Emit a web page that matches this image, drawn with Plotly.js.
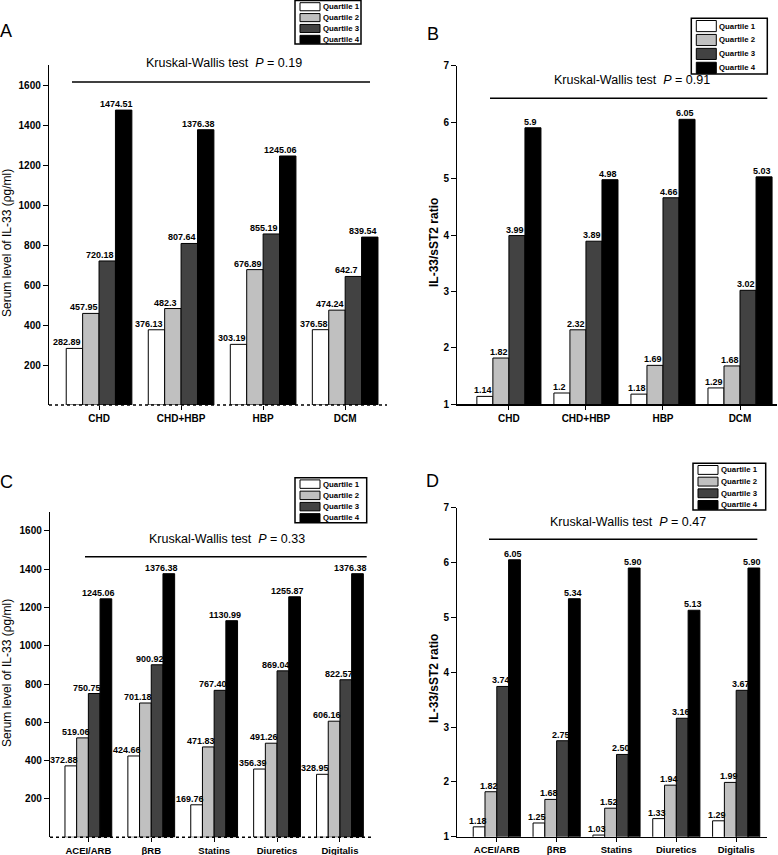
<!DOCTYPE html>
<html>
<head>
<meta charset="utf-8">
<script src="https://cdn.plot.ly/plotly-3.0.1.min.js"></script>
<style>
  html, body { margin: 0; padding: 0; background: #fff; }
  #fig { width: 778px; height: 855px; }
</style>
</head>
<body>
<div id="fig"></div>
<script>
/* ─── Data ─── */
const QUARTILES = ['Quartile 1', 'Quartile 2', 'Quartile 3', 'Quartile 4'];
const Q_COLORS = ['#ffffff', '#c0c0c0', '#424242', '#000000'];

const DISEASE_CATS = ['CHD', 'CHD+HBP', 'HBP', 'DCM'];
const DRUG_CATS = ['ACEI/ARB', 'βRB', 'Statins', 'Diuretics', 'Digitalis'];

// A: serum IL-33 by disease
const A_Q1 = [282.89, 376.13, 303.19, 376.58];
const A_Q2 = [457.95, 482.3, 676.89, 474.24];
const A_Q3 = [720.18, 807.64, 855.19, 642.7];
const A_Q4 = [1474.51, 1376.38, 1245.06, 839.54];

// B: IL-33/sST2 ratio by disease
const B_Q1 = [1.14, 1.2, 1.18, 1.29];
const B_Q2 = [1.82, 2.32, 1.69, 1.68];
const B_Q3 = [3.99, 3.89, 4.66, 3.02];
const B_Q4 = [5.9, 4.98, 6.05, 5.03];

// C: serum IL-33 by drug
const C_Q1 = [372.88, 424.66, 169.76, 356.39, 328.95];
const C_Q2 = [519.06, 701.18, 471.83, 491.26, 606.16];
const C_Q3 = [750.75, 900.92, 767.40, 869.04, 822.57];
const C_Q4 = [1245.06, 1376.38, 1130.99, 1255.87, 1376.38];

// D: IL-33/sST2 ratio by drug
const D_Q1 = [1.18, 1.25, 1.03, 1.33, 1.29];
const D_Q2 = [1.82, 1.68, 1.52, 1.94, 1.99];
const D_Q3 = [3.74, 2.75, 2.50, 3.16, 3.67];
const D_Q4 = [6.05, 5.34, 5.90, 5.13, 5.90];

const P_VALUES = ['0.19', '0.91', '0.33', '0.47'];
const SERUM_TICKS = [200, 400, 600, 800, 1000, 1200, 1400, 1600];
const RATIO_TICKS = [1, 2, 3, 4, 5, 6, 7];

/* ─── Page geometry (pixels → paper) ─── */
const W = 778, H = 855;
const px = v => v / W;
const py = v => 1 - v / H;
const FONT = '"Liberation Sans", Arial, Helvetica, sans-serif';

const PANELS = [
  {
    letter: 'A', cats: DISEASE_CATS, series: [A_Q1, A_Q2, A_Q3, A_Q4], fmt: v => String(v),
    xdom: [49, 387], ydom: [405, 65], xrange: [-0.61, 3.51], yrange: [0, 1700], ticks: SERUM_TICKS,
    barw: 0.2, shift: -7, dotted: true, catSize: 10,
    title: [224, 63], line: [72, 370, 82], legend: [295, 0.5, 361, 44],
    letterAt: [6, 31], ytitle: 'Serum level of IL-33 (ρg/ml)', ytAt: [7, 243], ytBold: false,
  },
  {
    letter: 'B', cats: DISEASE_CATS, series: [B_Q1, B_Q2, B_Q3, B_Q4], fmt: v => String(v),
    xdom: [457.3, 777], ydom: [404.3, 65.7], xrange: [-0.67, 3.48], yrange: [1, 7], ticks: RATIO_TICKS,
    barw: 0.208, shift: -2, dotted: false, catSize: 10,
    title: [632, 80], line: [490, 767.3, 98.3], legend: [691.3, 18.3, 767.3, 74],
    letterAt: [432.5, 34], ytitle: 'IL-33/sST2 ratio', ytAt: [434, 242], ytBold: true,
  },
  {
    letter: 'C', cats: DRUG_CATS, series: [C_Q1, C_Q2, C_Q3, C_Q4], fmt: v => v.toFixed(2),
    xdom: [50, 371.7], ydom: [837.3, 511.7], xrange: [-0.61, 4.505], yrange: [0, 1700], ticks: SERUM_TICKS,
    barw: 0.186, shift: -7, dotted: true, catSize: 9.5,
    title: [226.7, 539.3], line: [85, 366.7, 556.7], legend: [295, 477.7, 366.7, 522.7],
    letterAt: [6, 482], ytitle: 'Serum level of IL-33 (ρg/ml)', ytAt: [7, 673], ytBold: false,
  },
  {
    letter: 'D', cats: DRUG_CATS, series: [D_Q1, D_Q2, D_Q3, D_Q4], fmt: v => v.toFixed(2),
    xdom: [457.3, 767.3], ydom: [836.7, 507.7], xrange: [-0.66, 4.52], yrange: [1, 7], ticks: RATIO_TICKS,
    barw: 0.197, shift: -1.5, dotted: false, catSize: 9.5,
    title: [628, 521.7], line: [489, 757.3, 539.3], legend: [693, 463.3, 765.7, 510],
    letterAt: [432.5, 481], ytitle: 'IL-33/sST2 ratio', ytAt: [434, 678], ytBold: true,
  },
];

/* ─── Build figure ─── */
const traces = [];
const annotations = [];
const shapes = [];
const layout = {
  width: W, height: H,
  margin: { l: 0, r: 0, t: 0, b: 0 },
  paper_bgcolor: '#fff', plot_bgcolor: '#fff',
  font: { family: FONT, color: '#000' },
  showlegend: false,
  barmode: 'overlay',
};

PANELS.forEach((p, k) => {
  const n = k === 0 ? '' : String(k + 1);
  const xa = 'x' + n, ya = 'y' + n;

  p.series.forEach((vals, i) => {
    traces.push({
      type: 'bar', x: p.cats, y: vals, name: QUARTILES[i],
      xaxis: xa, yaxis: ya,
      width: p.barw, offset: (i - 2) * p.barw,
      marker: { color: Q_COLORS[i], line: { color: '#000', width: 1 } },
      hoverinfo: 'skip',
    });
    vals.forEach((v, c) => {
      annotations.push({
        xref: xa, yref: ya, x: c + (i - 1.5) * p.barw, y: v,
        text: p.fmt(v), showarrow: false, yanchor: 'bottom', xanchor: 'center',
        xshift: p.shift, yshift: -1,
        font: { size: 9, weight: 'bold', family: FONT, color: '#000' },
      });
    });
  });

  layout['xaxis' + n] = {
    domain: [px(p.xdom[0]), px(p.xdom[1])], anchor: ya,
    type: 'category', range: p.xrange, fixedrange: true,
    showline: !p.dotted, linecolor: '#000', linewidth: 1.2,
    ticks: 'outside', ticklen: 4, tickcolor: '#000', tickwidth: 1,
    showgrid: false, zeroline: false,
    tickfont: { size: p.catSize, weight: 'bold', family: FONT, color: '#000' },
  };
  layout['yaxis' + n] = {
    domain: [py(p.ydom[0]), py(p.ydom[1])], anchor: xa,
    range: p.yrange, fixedrange: true,
    tickvals: p.ticks,
    showline: true, linecolor: '#000', linewidth: 1.2,
    ticks: 'outside', ticklen: 5, tickcolor: '#000', tickwidth: 1,
    showgrid: false, zeroline: false,
    tickfont: { size: 10, weight: 'bold', family: FONT, color: '#000' },
  };

  if (p.dotted) {
    shapes.push({
      type: 'line', xref: xa + ' domain', yref: ya + ' domain',
      x0: 0, x1: 1, y0: 0, y1: 0,
      line: { color: '#000', width: 1.5, dash: 'dot' },
    });
  }

  // test title and bracket line
  annotations.push({
    xref: 'paper', yref: 'paper', x: px(p.title[0]), y: py(p.title[1]),
    text: 'Kruskal-Wallis test\u00a0\u00a0<i>P</i> = ' + P_VALUES[k],
    showarrow: false, xanchor: 'center', yanchor: 'middle',
    font: { size: 12.5, family: FONT, color: '#000' },
  });
  shapes.push({
    type: 'line', xref: 'paper', yref: 'paper',
    x0: px(p.line[0]), x1: px(p.line[1]), y0: py(p.line[2]), y1: py(p.line[2]),
    line: { color: '#000', width: 1.5 },
  });

  // panel letter and y title
  annotations.push({
    xref: 'paper', yref: 'paper', x: px(p.letterAt[0]), y: py(p.letterAt[1]),
    text: p.letter, showarrow: false, xanchor: 'center', yanchor: 'middle',
    font: { size: 18, family: FONT, color: '#000' },
  });
  annotations.push({
    xref: 'paper', yref: 'paper', x: px(p.ytAt[0]), y: py(p.ytAt[1]),
    text: p.ytitle, textangle: -90, showarrow: false, xanchor: 'center', yanchor: 'middle',
    font: { size: 12, weight: p.ytBold ? 'bold' : 'normal', family: FONT, color: '#000' },
  });

  // legend box
  const [L, T, R, B] = p.legend;
  const pitch = (B - T) / 4;
  shapes.push({
    type: 'rect', xref: 'paper', yref: 'paper',
    x0: px(L), x1: px(R), y0: py(T), y1: py(B),
    line: { color: '#000', width: 1.5 }, fillcolor: 'rgba(0,0,0,0)',
  });
  QUARTILES.forEach((q, i) => {
    const top = T + i * pitch + 2.2, bot = T + (i + 1) * pitch - 0.6;
    shapes.push({
      type: 'rect', xref: 'paper', yref: 'paper',
      x0: px(L + 5), x1: px(L + 25), y0: py(top), y1: py(bot),
      line: { color: '#000', width: 1 }, fillcolor: Q_COLORS[i],
    });
    annotations.push({
      xref: 'paper', yref: 'paper', x: px(L + 26), y: py((top + bot) / 2),
      text: q, showarrow: false, xanchor: 'left', yanchor: 'middle',
      font: { size: 7.8, weight: 'bold', family: FONT, color: '#000' },
    });
  });
});

layout.annotations = annotations;
layout.shapes = shapes;

Plotly.newPlot('fig', traces, layout, { displayModeBar: false, staticPlot: true });
</script>
</body>
</html>
